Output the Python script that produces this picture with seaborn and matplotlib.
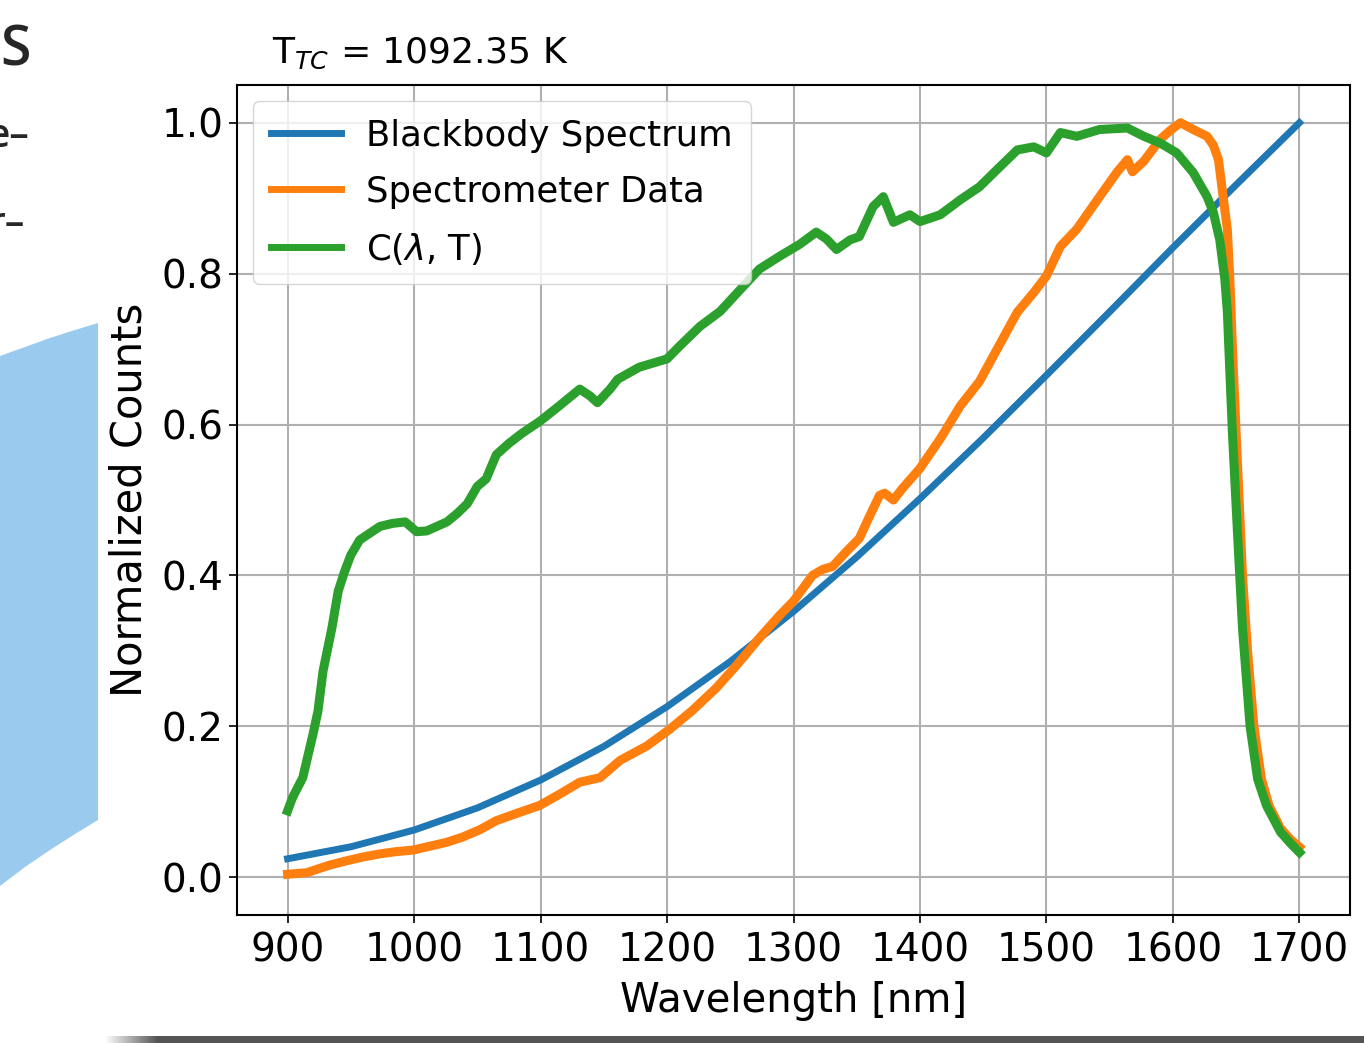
import numpy as np
import matplotlib
matplotlib.use("Agg")
import matplotlib.pyplot as plt
from matplotlib.patches import Polygon
import seaborn as sns

# Blackbody reference curve (normalised at 1700 nm)
bb_wl = [900, 950, 1000, 1050, 1100, 1150, 1200, 1250, 1300, 1350,
         1400, 1450, 1500, 1550, 1600, 1650, 1700]
bb_val = [0.0245, 0.0404, 0.0626, 0.0919, 0.1288, 0.1734, 0.2261, 0.2859,
          0.3523, 0.4245, 0.5018, 0.5822, 0.6654, 0.7495, 0.8345, 0.9178, 1.0]

# Measured spectrometer counts (normalised)
spec_wl = [900, 915, 933, 947, 960, 973, 986, 999, 1012, 1025, 1038, 1052,
           1065, 1080, 1099, 1115, 1131, 1147, 1163, 1184, 1202, 1220, 1239,
           1255, 1273, 1289, 1300, 1315, 1323, 1331, 1342, 1352, 1360, 1368,
           1372, 1379, 1386, 1400, 1416, 1432, 1447, 1461, 1477, 1490, 1500,
           1511, 1524, 1542, 1556, 1564, 1568, 1577, 1590, 1598, 1606, 1616,
           1627, 1632, 1636, 1639, 1643, 1645, 1647, 1651, 1655, 1659, 1664,
           1670, 1676, 1685, 1693, 1700]
spec_val = [0.004, 0.006, 0.016, 0.022, 0.027, 0.031, 0.034, 0.036, 0.041,
            0.046, 0.053, 0.063, 0.075, 0.084, 0.095, 0.110, 0.126, 0.132,
            0.155, 0.174, 0.196, 0.221, 0.251, 0.281, 0.317, 0.347, 0.366,
            0.400, 0.408, 0.412, 0.432, 0.449, 0.478, 0.506, 0.509, 0.500,
            0.515, 0.542, 0.581, 0.625, 0.657, 0.700, 0.749, 0.775, 0.797,
            0.836, 0.859, 0.902, 0.935, 0.951, 0.935, 0.949, 0.978, 0.990,
            1.000, 0.991, 0.982, 0.970, 0.951, 0.911, 0.859, 0.793, 0.703,
            0.550, 0.400, 0.300, 0.200, 0.130, 0.095, 0.065, 0.050, 0.040]

# Correction factor C(lambda, T) = measured / blackbody, normalised
corr_wl = [900, 904, 912, 920, 924, 928, 935, 940, 945, 950, 957, 965, 973,
           983, 993, 1002, 1010, 1018, 1026, 1034, 1042, 1050, 1057, 1065,
           1075, 1085, 1100, 1115, 1131, 1139, 1145, 1155, 1161, 1178, 1200,
           1210, 1226, 1242, 1258, 1273, 1289, 1305, 1318, 1326, 1334, 1345,
           1352, 1363, 1371, 1379, 1392, 1400, 1416, 1432, 1447, 1461, 1477,
           1490, 1500, 1511, 1524, 1542, 1564, 1577, 1590, 1603, 1616, 1627,
           1632, 1637, 1641, 1643, 1647, 1651, 1655, 1661, 1667, 1674, 1685,
           1693, 1700]
corr_val = [0.088, 0.106, 0.132, 0.189, 0.220, 0.273, 0.330, 0.379, 0.405,
            0.427, 0.447, 0.456, 0.465, 0.469, 0.471, 0.458, 0.459, 0.465,
            0.471, 0.482, 0.495, 0.518, 0.528, 0.560, 0.575, 0.588, 0.605,
            0.625, 0.647, 0.638, 0.629, 0.647, 0.660, 0.676, 0.687, 0.704,
            0.730, 0.750, 0.779, 0.806, 0.823, 0.839, 0.855, 0.846, 0.832,
            0.845, 0.849, 0.889, 0.902, 0.868, 0.878, 0.869, 0.878, 0.898,
            0.915, 0.938, 0.964, 0.968, 0.960, 0.987, 0.982, 0.991, 0.993,
            0.982, 0.973, 0.960, 0.934, 0.902, 0.881, 0.845, 0.793, 0.750,
            0.590, 0.458, 0.330, 0.200, 0.130, 0.095, 0.060, 0.045, 0.033]

x_ticks = [900, 1000, 1100, 1200, 1300, 1400, 1500, 1600, 1700]
y_ticks = [0.0, 0.2, 0.4, 0.6, 0.8, 1.0]

W, H = 1364, 1043
fig = plt.figure(figsize=(W / 100, H / 100), dpi=100)
fig.patch.set_facecolor("white")

# slide remnants around the figure
fig.text(0 / W, 1 - 66 / H, "S", fontsize=40, color="#262626",
         family="Open Sans", weight="semibold", ha="left", va="baseline")
fig.text(-13 / W, 1 - 147 / H, "e–", fontsize=28, color="#262626",
         family="Open Sans", weight="semibold", ha="left", va="baseline")
fig.text(-11 / W, 1 - 235 / H, "r–", fontsize=28, color="#262626",
         family="Open Sans", weight="semibold", ha="left", va="baseline")

bx = np.array([0, 25, 50, 75, 98])
top_y = np.array([356, 347, 338, 330, 323])
bot_y = np.array([886, 867, 850, 834, 820])
verts = list(zip(bx / W, 1 - top_y / H)) + list(zip(bx[::-1] / W, 1 - bot_y[::-1] / H))
fig.patches.append(Polygon(verts, closed=True, transform=fig.transFigure,
                           facecolor="#9ACBEF", edgecolor="none"))

# dark bar along the bottom with a soft left end
bar_ax = fig.add_axes([104 / W, 0, 1 - 104 / W, 7 / H])
grad = np.ones((1, 600, 4))
grad[..., :3] = 0.33
grad[0, :, 3] = np.clip(np.linspace(0, 600 / 25, 600), 0, 1)
bar_ax.imshow(grad, aspect="auto", interpolation="bilinear")
bar_ax.set_axis_off()

ax = fig.add_axes([237 / W, 1 - 915 / H, (1350 - 237) / W, (915 - 85) / H])

sns.lineplot(x=bb_wl, y=bb_val, ax=ax, color="#1f77b4", linewidth=5,
             label="Blackbody Spectrum", estimator=None, sort=False)
sns.lineplot(x=spec_wl, y=spec_val, ax=ax, color="#ff7f0e", linewidth=6.5,
             label="Spectrometer Data", estimator=None, sort=False)
sns.lineplot(x=corr_wl, y=corr_val, ax=ax, color="#2ca02c", linewidth=6.5,
             label=r"C($\lambda$, T)", estimator=None, sort=False)

ax.set_xlim(860, 1740)
ax.set_ylim(-0.05, 1.05)
ax.set_xticks(x_ticks)
ax.set_yticks(y_ticks)
ax.set_yticklabels([f"{v:.1f}" for v in y_ticks])
ax.tick_params(labelsize=28, length=6, width=1.2)
ax.tick_params(axis="x", pad=6)
ax.grid(True, color="#b0b0b0", linewidth=1.5)
for s in ax.spines.values():
    s.set_linewidth(1.5)
    s.set_color("black")

ax.set_xlabel("Wavelength [nm]", fontsize=29, labelpad=8)
ax.set_ylabel("Normalized Counts", fontsize=30, labelpad=8)

leg = ax.legend(loc="upper left", fontsize=25.5, handlelength=2.0,
                handletextpad=0.7, labelspacing=0.62, borderpad=0.5,
                borderaxespad=0.45)
for line in leg.get_lines():
    line.set_linewidth(5)

fig.text(272 / W, 1 - 63 / H, r"T$_{TC}$ = 1092.35 K", fontsize=26,
         ha="left", va="baseline")

fig.savefig("out.png", dpi=100, facecolor="white")
